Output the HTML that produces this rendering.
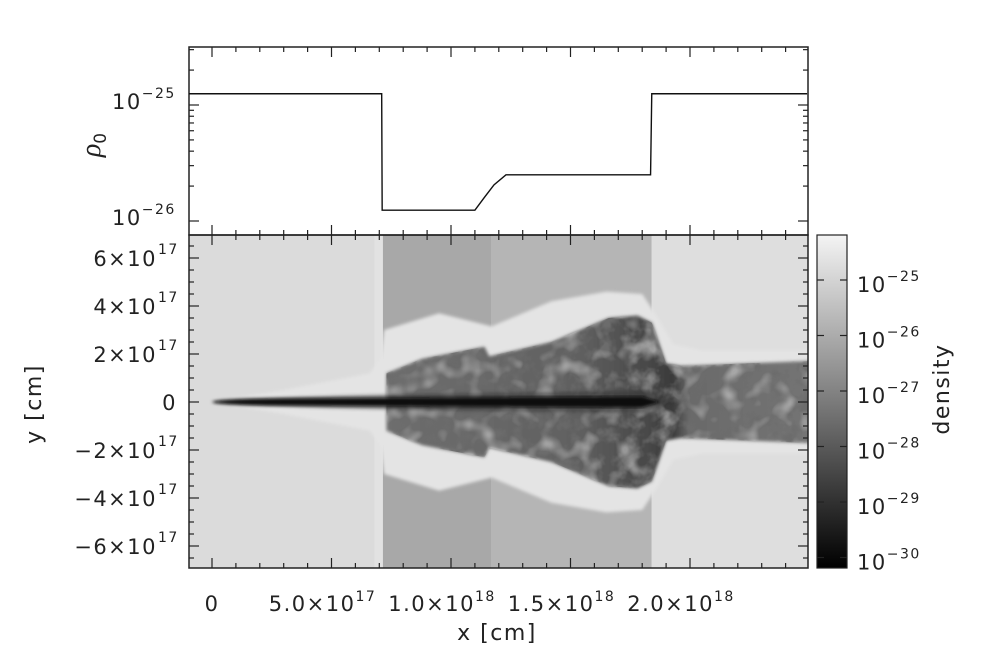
<!DOCTYPE html>
<html><head><meta charset="utf-8"><style>
html,body{margin:0;padding:0;background:#fff;}
svg{display:block;font-family:"DejaVu Sans","Liberation Sans",sans-serif;}
</style></head><body>
<svg id="fig" width="994" height="666" viewBox="0 0 994 666" xmlns="http://www.w3.org/2000/svg">
<defs>
<filter id="turb" x="0" y="0" width="100%" height="100%">
<feTurbulence type="fractalNoise" baseFrequency="0.07" numOctaves="3" seed="7" result="n"/>
<feColorMatrix in="n" type="matrix" values="0 0 0 0 0.15  0 0 0 0 0.15  0 0 0 0 0.15  0 0 0 -3 1.7" result="c"/>
<feComposite in="c" in2="SourceGraphic" operator="in"/>
</filter>
<filter id="turb2" x="0" y="0" width="100%" height="100%">
<feTurbulence type="fractalNoise" baseFrequency="0.05" numOctaves="2" seed="2" result="n"/>
<feColorMatrix in="n" type="matrix" values="0 0 0 0 0.75  0 0 0 0 0.75  0 0 0 0 0.75  0 0 0 3 -1.5" result="c"/>
<feComposite in="c" in2="SourceGraphic" operator="in"/>
</filter>
<filter id="blur1"><feGaussianBlur stdDeviation="1.5"/></filter>
<linearGradient id="cb" x1="0" y1="0" x2="0" y2="1">
<stop offset="0" stop-color="#f4f4f4"/><stop offset="0.35" stop-color="#a0a0a0"/><stop offset="0.7" stop-color="#4a4a4a"/><stop offset="1" stop-color="#000"/>
</linearGradient>
<linearGradient id="cocg" gradientUnits="userSpaceOnUse" x1="385" y1="0" x2="808" y2="0">
<stop offset="0" stop-color="#6e6e6e"/><stop offset="0.45" stop-color="#616161"/><stop offset="0.62" stop-color="#484848"/><stop offset="0.68" stop-color="#3a3a3a"/><stop offset="0.72" stop-color="#6a6a6a"/><stop offset="1" stop-color="#747474"/>
</linearGradient>
<clipPath id="clipB"><rect x="189" y="235" width="619" height="333"/></clipPath>
</defs>
<g id="heat" clip-path="url(#clipB)"></g>
<g id="axes"></g>
<text x="949" y="389" font-size="22" letter-spacing="1.5" fill="#222" text-anchor="middle" transform="rotate(-90 949 389)">density</text>
<text x="497" y="640" font-size="22" letter-spacing="1.5" fill="#222" text-anchor="middle">x [cm]</text>
<text x="41" y="404" font-size="22" letter-spacing="1.5" fill="#222" text-anchor="middle" transform="rotate(-90 41 404)">y [cm]</text>
<text x="100" y="145" font-size="28" fill="#222" text-anchor="middle" font-style="italic" font-family="Liberation Serif, serif" transform="rotate(-90 100 145)">ρ<tspan font-size="17" dy="6" font-style="normal" font-family="DejaVu Sans, sans-serif">0</tspan></text>
</svg>
<script>
// top panel profile (x in cm, rho0)
const profX = [-1e17, 7.1e17, 7.12e17, 1.10e18, 1.14e18, 1.18e18, 1.23e18, 1.835e18, 1.84e18, 2.49e18];
const profRho = [1.25e-25, 1.25e-25, 1.24e-26, 1.24e-26, 1.6e-26, 2.05e-26, 2.5e-26, 2.5e-26, 1.25e-25, 1.25e-25];
// background density bands (x start, x end, grey level)
const bandX0 = [-1e17, 6.8e17, 7.15e17, 1.17e18, 1.84e18];
const bandX1 = [6.8e17, 7.15e17, 1.17e18, 1.84e18, 2.6e18];
const bandGrey = [219, 226, 168, 181, 222];
// shell (outer light) upper boundary, cm
const shellX = [0, 3e17, 6.6e17, 7.05e17, 7.2e17, 9.5e17, 1.17e18, 1.42e18, 1.65e18, 1.80e18, 1.86e18, 1.93e18, 2.05e18, 2.6e18];
const shellY = [0, 5e16, 1.2e17, 1.8e17, 3.0e17, 3.7e17, 3.15e17, 4.2e17, 4.6e17, 4.5e17, 3.6e17, 2.4e17, 2.15e17, 2.15e17];
// cocoon (dark turbulent) upper boundary
const cocX = [7.3e17, 8.8e17, 1.14e18, 1.16e18, 1.42e18, 1.66e18, 1.78e18, 1.84e18, 1.90e18, 1.96e18, 2.6e18];
const cocY = [1.2e17, 1.8e17, 2.3e17, 1.9e17, 2.5e17, 3.5e17, 3.6e17, 3.3e17, 1.6e17, 1.5e17, 1.75e17];
const xTicks = [0, 5e17, 1e18, 1.5e18, 2e18];
const xLabels = ["0", "5.0×10", "1.0×10", "1.5×10", "2.0×10"];
const xExp = ["", "17", "18", "18", "18"];
const yTicks = [6e17, 4e17, 2e17, 0, -2e17, -4e17, -6e17];
const yLabels = ["6×10", "4×10", "2×10", "0", "−2×10", "−4×10", "−6×10"];
const cbLabels = ["−25", "−26", "−27", "−28", "−29", "−30"];

const NS = "http://www.w3.org/2000/svg";
const L = 189, R = 808, TT = 47, TB = 235, BT = 235, BB = 568;
const sx = v => 212 + v / 1e17 * 23.9;
const sy = v => 402 - v / 1e17 * 24;
const sr = v => 105 - (Math.log10(v) + 25) * 116;
function mk(tag, attrs, parent) { const e = document.createElementNS(NS, tag); for (const k in attrs) e.setAttribute(k, attrs[k]); parent.appendChild(e); return e; }
const heat = document.getElementById('heat'), axes = document.getElementById('axes');
const TXT = {fill: '#222', 'letter-spacing': 1.5};

for (let i = 0; i < bandX0.length; i++) {
  const g = bandGrey[i];
  const r = mk('rect', {x: sx(bandX0[i]), y: BT, width: sx(bandX1[i]) - sx(bandX0[i]), height: BB - BT, fill: `rgb(${g},${g},${g})`}, heat);
  
  
}
function sym(xs, ys) {
  let d = '';
  xs.forEach((x, i) => d += (i ? 'L' : 'M') + sx(x) + ',' + sy(ys[i]));
  for (let i = xs.length - 1; i >= 0; i--) d += 'L' + sx(xs[i]) + ',' + sy(-ys[i]);
  return d + 'Z';
}
const shell = mk('path', {d: sym(shellX, shellY), fill: '#e4e4e4', filter: 'url(#blur1)'}, heat);


const coc = mk('path', {d: sym(cocX, cocY), fill: 'url(#cocg)', filter: 'url(#blur1)'}, heat);


const tex = mk('path', {d: sym(cocX, cocY), fill: '#fff', filter: 'url(#turb)'}, heat);


const tex2 = mk('path', {d: sym(cocX, cocY), fill: '#fff', filter: 'url(#turb2)', opacity: 0.5}, heat);


const halo = mk('path', {d: `M${sx(0)},402 Q${sx(3e17)},394 ${sx(1.8e18)},391 L${sx(1.95e18)},402 L${sx(1.8e18)},413 Q${sx(3e17)},410 ${sx(0)},402Z`, fill: '#333', opacity: 0.5, filter: 'url(#blur1)'}, heat);


const jet = mk('path', {d: `M${sx(0)},402 Q${sx(0.2e17)},399 ${sx(3e17)},398.5 L${sx(1.8e18)},396.5 L${sx(1.88e18)},402 L${sx(1.8e18)},407.5 L${sx(3e17)},405.5 Q${sx(0.2e17)},405 ${sx(0)},402Z`, fill: '#0c0c0c', filter: 'url(#blur1)'}, heat);



const f1 = mk('rect', {x: L, y: TT, width: R - L, height: TB - TT, fill: 'none', stroke: '#222', 'stroke-width': 1.5}, axes);


const f2 = mk('rect', {x: L, y: BT, width: R - L, height: BB - BT, fill: 'none', stroke: '#222', 'stroke-width': 1.5}, axes);



let pd = '';
profX.forEach((x, i) => pd += (i ? 'L' : 'M') + Math.max(L, Math.min(sx(x), R)) + ',' + sr(profRho[i]));
const pl = mk('path', {d: pd, fill: 'none', stroke: '#111', 'stroke-width': 1.4}, axes);



for (let k = 0; k <= 24; k++) {
  const x = sx(k * 1e17), len = k % 5 === 0 ? 10 : 5;
  if (x > R) break;
  [[TT, 1], [TB, -1], [BT, 1], [BB, -1]].forEach(([y, s]) => mk('line', {x1: x, x2: x, y1: y, y2: y + s * len, stroke: '#222', 'stroke-width': 1.2}, axes));
}
xTicks.forEach((v, i) => {
  const t = mk('text', Object.assign({x: sx(v) + (xExp[i] ? -9 : 0), y: 611, 'font-size': 21, 'text-anchor': 'middle'}, TXT), axes);
  t.textContent = xLabels[i];
  if (xExp[i]) { const s = mk('tspan', {'font-size': 14, dy: -10}, t); s.textContent = xExp[i]; }
  
  
});
for (let k = -14; k <= 14; k++) {
  const y = sy(k * 0.5e17), len = k % 4 === 0 ? 10 : 5;
  if (y < BT || y > BB) continue;
  mk('line', {x1: L, x2: L + len, y1: y, y2: y, stroke: '#222', 'stroke-width': 1.2}, axes);
  mk('line', {x1: R, x2: R - len, y1: y, y2: y, stroke: '#222', 'stroke-width': 1.2}, axes);
}
yTicks.forEach((v, i) => {
  const exp = v !== 0;
  const t = mk('text', Object.assign({x: exp ? 157 : 177, y: sy(v) + 8, 'font-size': 21, 'text-anchor': 'end'}, TXT), axes);
  t.textContent = yLabels[i];
  
  
  if (exp) { const s = mk('text', Object.assign({x: 158, y: sy(v) - 4, 'font-size': 14}, TXT), axes); s.textContent = '17'; }
});
[1e-26, 1e-25].forEach(base => {
  for (let m = 1; m <= 9; m++) {
    const y = sr(base * m);
    if (y < TT || y > TB) continue;
    const len = m === 1 ? 10 : 5;
    mk('line', {x1: L, x2: L + len, y1: y, y2: y, stroke: '#222', 'stroke-width': 1.2}, axes);
    mk('line', {x1: R, x2: R - len, y1: y, y2: y, stroke: '#222', 'stroke-width': 1.2}, axes);
  }
});
[["−25", 1e-25], ["−26", 1e-26]].forEach(([e, v]) => {
  const t = mk('text', Object.assign({x: 112, y: sr(v) + 4, 'font-size': 21}, TXT), axes);
  t.textContent = '10';
  const s = mk('tspan', {'font-size': 14, dy: -11}, t); s.textContent = e;
  
  
});
const cb = mk('rect', {x: 817, y: 235, width: 30, height: 333, fill: 'url(#cb)', stroke: '#222', 'stroke-width': 1.2}, axes);


cbLabels.forEach((e, i) => {
  const y = 280 + i * 55.5;
  mk('line', {x1: 817, x2: 824, y1: y, y2: y, stroke: '#222', 'stroke-width': 1.2}, axes);
  mk('line', {x1: 847, x2: 840, y1: y, y2: y, stroke: '#222', 'stroke-width': 1.2}, axes);
  const t = mk('text', Object.assign({x: 857, y: y + 12, 'font-size': 21}, TXT), axes);
  t.textContent = '10';
  const s = mk('tspan', {'font-size': 14, dy: -11}, t); s.textContent = e;
  
  
});
</script>
</body></html>
